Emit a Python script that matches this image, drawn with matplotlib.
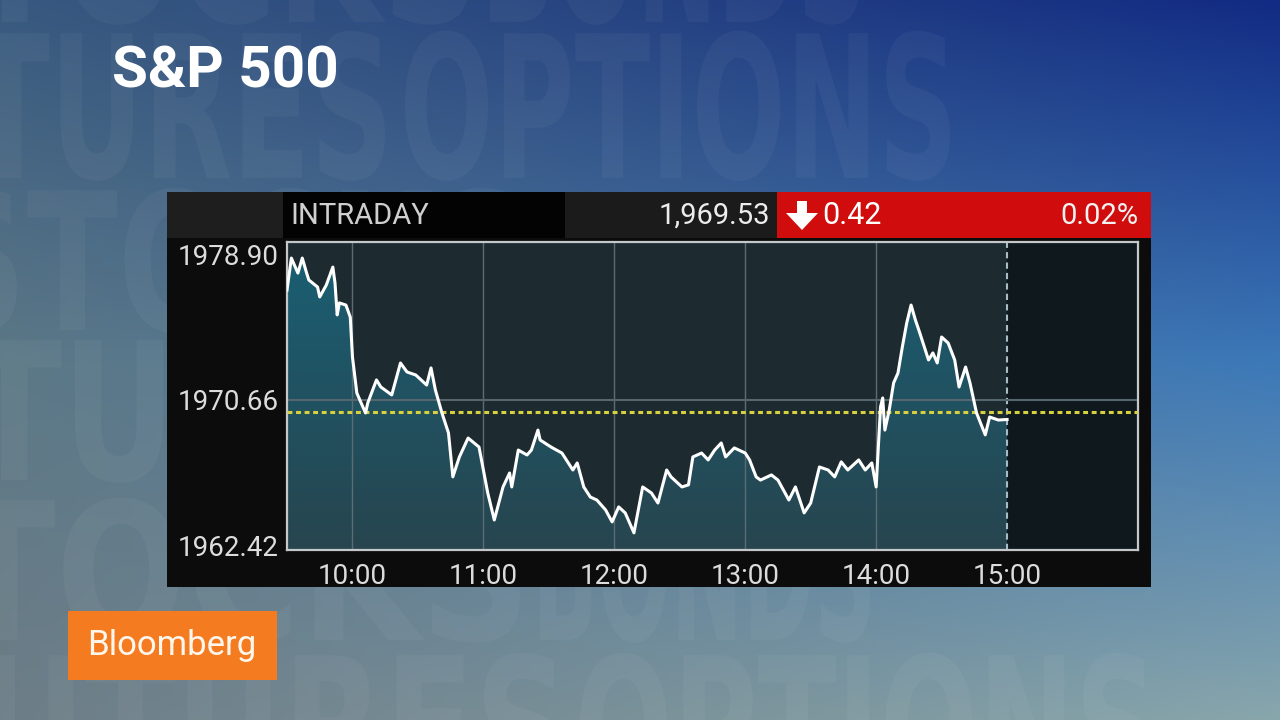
import matplotlib.pyplot as plt
import numpy as np
from matplotlib.colors import to_rgb, LinearSegmentedColormap
from matplotlib.patches import Rectangle, Polygon, PathPatch
from matplotlib.textpath import TextPath
from matplotlib.font_manager import FontProperties
import matplotlib.transforms as mtransforms

# S&P 500 intraday, minutes after the 9:30 open
minutes_from_open = [0, 2, 5, 7, 9, 10, 14, 15, 18, 21, 22, 23, 24, 27, 29, 30, 32, 34, 36, 37,
                     41, 43, 48, 52, 55, 59, 64, 66, 68, 71, 74, 76, 79, 83, 88, 92, 95, 99, 102, 103,
                     106, 110, 112, 115, 116, 121, 126, 131, 133, 136, 139, 142, 146, 149, 152, 155, 159, 163, 167, 170,
                     174, 176, 181, 184, 186, 190, 193, 196, 199, 201, 205, 210, 212, 215, 217, 222, 225, 230, 233, 237,
                     240, 244, 248, 251, 254, 257, 262, 265, 268, 270, 272, 273, 274, 276, 278, 280, 282, 284, 286, 288,
                     290, 294, 296, 298, 300, 303, 306, 308, 311, 313, 316, 320, 322, 326, 330]
prices = [1976.86, 1978.67, 1977.82, 1978.67, 1977.82, 1977.43, 1977.03, 1976.47, 1977.14, 1978.16,
          1977.26, 1975.45, 1976.13, 1976.01, 1975.33, 1973.07, 1971.03, 1970.46, 1969.90, 1970.46,
          1971.77, 1971.37, 1970.92, 1972.73, 1972.22, 1972.05, 1971.48, 1972.45, 1971.20, 1969.90,
          1968.77, 1966.28, 1967.41, 1968.48, 1967.97, 1965.37, 1963.84, 1965.71, 1966.50, 1965.71,
          1967.80, 1967.52, 1967.80, 1968.93, 1968.37, 1967.97, 1967.63, 1966.67, 1967.07, 1965.71,
          1965.14, 1964.97, 1964.41, 1963.73, 1964.58, 1964.24, 1963.11, 1965.71, 1965.37, 1964.80,
          1966.67, 1966.28, 1965.71, 1965.83, 1967.41, 1967.63, 1967.24, 1967.80, 1968.20, 1967.41,
          1967.92, 1967.63, 1967.24, 1966.28, 1966.10, 1966.39, 1966.10, 1964.97, 1965.71, 1964.24,
          1964.80, 1966.84, 1966.67, 1966.28, 1967.13, 1966.67, 1967.24, 1966.67, 1967.07, 1965.71,
          1970.24, 1970.75, 1968.93, 1970.07, 1971.60, 1972.16, 1973.64, 1974.99, 1976.01, 1975.16,
          1974.43, 1972.90, 1973.30, 1972.73, 1974.20, 1973.86, 1972.90, 1971.37, 1972.50, 1971.60,
          1969.90, 1968.66, 1969.67, 1969.50, 1969.53]
prev_close = 1969.95
y_ticks = [1962.42, 1970.66, 1978.90]
hour_ticks = [10, 11, 12, 13, 14, 15]
hour_labels = ['10:00', '11:00', '12:00', '13:00', '14:00', '15:00']
last_price = '1,969.53'
change = '0.42'
change_pct = '0.02%'

hours = 9.5 + np.array(minutes_from_open) / 60.0
y_lo, y_hi = 1962.14, 1979.58

fig = plt.figure(figsize=(12.8, 7.2), dpi=100)

# ---- background layer in pixel coordinates ----
bg = fig.add_axes([0, 0, 1, 1])
bg.set_xlim(0, 1280)
bg.set_ylim(720, 0)
bg.axis('off')

left_stops = [to_rgb('#38597f'), to_rgb('#5c7886'), to_rgb('#6d7d87')]
right_stops = [to_rgb('#122b84'), to_rgb('#3c78b8'), to_rgb('#88a6ac')]
yy = np.linspace(0, 1, 180)
xx = np.linspace(0, 1, 320)
L = np.stack([np.interp(yy, [0, 0.5, 1], [s[i] for s in left_stops]) for i in range(3)], -1)
R = np.stack([np.interp(yy, [0, 0.5, 1], [s[i] for s in right_stops]) for i in range(3)], -1)
grad = L[:, None, :] * (1 - xx[None, :, None]) + R[:, None, :] * xx[None, :, None]
bg.imshow(grad, extent=(0, 1280, 720, 0), aspect='auto', interpolation='bicubic')

ghost_font = FontProperties(family='DejaVu Sans', weight='bold')


def ghost(word, x0, x1, baseline, cap):
    tp = TextPath((0, 0), word, size=100, prop=ghost_font)
    ext = tp.get_extents()
    sx = (x1 - x0) / ext.width
    sy = cap / 73.0
    tr = mtransforms.Affine2D().translate(-ext.x0, 0).scale(sx, -sy).translate(x0, baseline)
    bg.add_patch(PathPatch(tr.transform_path(tp), facecolor='white', edgecolor='none', alpha=0.04))


ghost('STOCKS', -120, 470, 22, 140)
ghost('BONDS', 490, 860, 22, 140)
ghost('FUTURES', -190, 385, 178, 145)
ghost('OPTIONS', 405, 950, 178, 145)
ghost('STOCKS', -60, 520, 330, 140)
ghost('FUTURES', -230, 470, 480, 140)
ghost('STOCKS', -150, 520, 640, 140)
ghost('BONDS', 540, 870, 640, 140)
ghost('FUTURES', -100, 560, 795, 140)
ghost('OPTIONS', 580, 1150, 795, 140)

bg.text(112, 72, 'S&P 500', color='white', fontsize=42, fontweight='bold',
        family='Roboto', va='center', ha='left')

# chart frame and header
bg.add_patch(Rectangle((167, 192), 984, 395, facecolor='#0c0c0c', edgecolor='none'))
bg.add_patch(Rectangle((167, 192), 116, 46, facecolor='#1e1e1e', edgecolor='none'))
bg.add_patch(Rectangle((283, 192), 282, 46, facecolor='#030303', edgecolor='none'))
bg.add_patch(Rectangle((565, 192), 212, 46, facecolor='#1b1b1b', edgecolor='none'))
bg.add_patch(Rectangle((777, 192), 374, 46, facecolor='#d00c0c', edgecolor='none'))
bg.text(290, 216, 'INTRADAY', color='#cfcfcf', fontsize=21, family='Roboto', va='center', ha='left')
bg.text(770, 216, last_price, color='#ececec', fontsize=21, family='Roboto', va='center', ha='right')
bg.add_patch(Polygon([(797, 201), (807, 201), (807, 213), (818, 213), (802, 230),
                      (786, 213), (797, 213)], closed=True, facecolor='white', edgecolor='none'))
bg.text(822, 216, change, color='white', fontsize=22, family='Roboto', va='center', ha='left')
bg.text(1138, 216, change_pct, color='#f2f2f2', fontsize=21, family='Roboto', va='center', ha='right')

# Bloomberg logo
bg.add_patch(Rectangle((68, 611), 209, 69, facecolor='#f47b20', edgecolor='none'))
bg.text(172, 646, 'Bloomberg', color='#fff6ec', fontsize=25, family='Roboto',
        va='center', ha='center')

# ---- chart ----
ax = fig.add_axes([287 / 1280, 1 - 550 / 720, 851 / 1280, 308 / 720])
ax.set_facecolor('#1d2b31')
ax.axvspan(15, 16, color='#0f181d', zorder=0)

fill = ax.fill_between(hours, prices, y_lo, color='none', zorder=1)
fill_grad = np.linspace(0, 1, 100)[:, None]
fill_cmap = LinearSegmentedColormap.from_list('f', ['#27454f', '#1a5f74'])
img = ax.imshow(fill_grad, extent=(9.5, 16, y_lo, y_hi), origin='lower', aspect='auto',
                cmap=fill_cmap, zorder=1)
img.set_clip_path(fill.get_paths()[0], transform=ax.transData)

for h in hour_ticks[:-1]:
    ax.axvline(h, color='#5c6c74', lw=1, zorder=2)
ax.axvline(15, color='#a8bcc6', lw=1.5, ls=(0, (3, 2)), zorder=2)
ax.axhline(y_ticks[1], color='#56666e', lw=1.5, zorder=2)
ax.axhline(prev_close, color='#d6d13c', lw=2.2, ls=(0, (1.6, 1.2)), zorder=3)
ax.plot(hours, prices, color='white', lw=2.2, zorder=4, solid_joinstyle='round')

ax.set_xlim(9.5, 16)
ax.set_ylim(y_lo, y_hi)
ax.set_xticks(hour_ticks)
ax.set_xticklabels(hour_labels)
ax.set_yticks(y_ticks)
ax.set_yticklabels([f'{v:.2f}' for v in y_ticks])
ax.tick_params(length=0, colors='#dcdcdc', labelsize=20)
ax.tick_params(axis='x', pad=9)
ax.tick_params(axis='y', pad=6)
for lab in ax.get_xticklabels() + ax.get_yticklabels():
    lab.set_family('Roboto')
for sp in ax.spines.values():
    sp.set_color('#c4c8ca')
    sp.set_linewidth(1.6)

fig.savefig('out.png', dpi=100)
